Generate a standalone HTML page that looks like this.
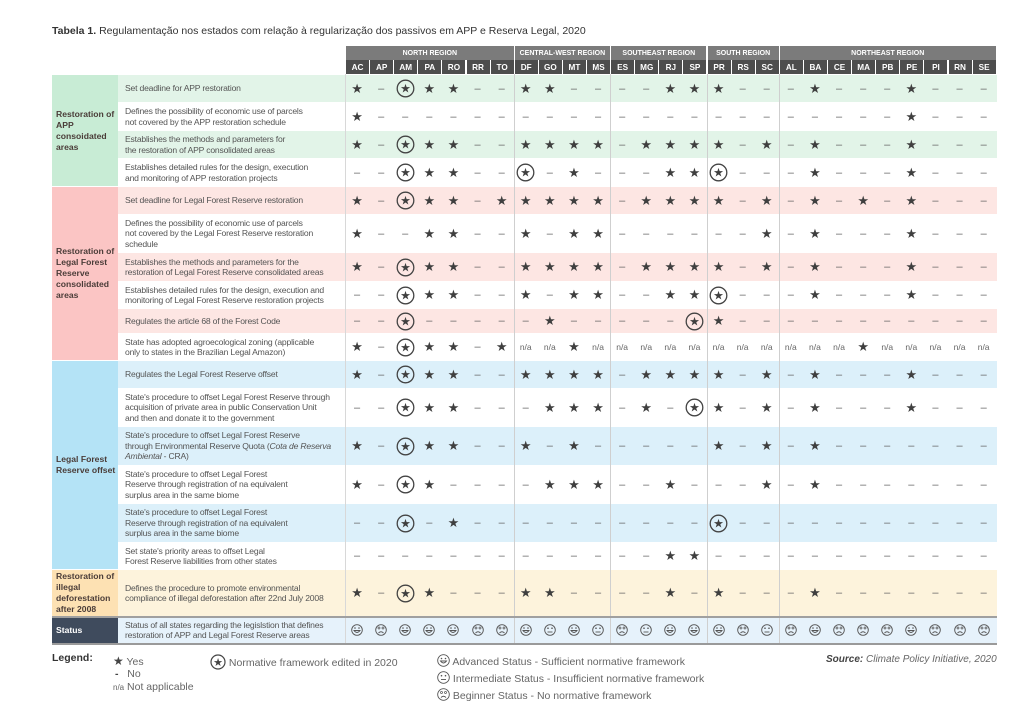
<!DOCTYPE html>
<html><head><meta charset="utf-8">
<style>
body{margin:0;width:1024px;height:724px;background:#fff;font-family:"Liberation Sans",sans-serif;position:relative;overflow:hidden}
.a{position:absolute;box-sizing:border-box}
.desc{font-size:8.6px;color:#555;line-height:10.5px;letter-spacing:-0.2px;display:flex;align-items:center;padding-left:7px}
.cat{font-size:8.6px;font-weight:bold;color:#4a3c38;line-height:11px;display:flex;align-items:center;padding-left:4px}
.cell{display:flex;align-items:center;justify-content:center;color:#454545}
.hd{color:#fff;font-weight:bold;font-size:7px;display:flex;align-items:center;justify-content:center;white-space:nowrap;overflow:hidden}
.leg{font-size:10.5px;color:#666}
</style></head><body>
<div class="a" style="left:52px;top:25px;font-size:10.5px;color:#333"><b>Tabela 1.</b> Regulamentação nos estados com relação à regularização dos passivos em APP e Reserva Legal, 2020</div>
<div id="t"></div>

<div class="a leg" style="left:52px;top:652px;color:#333;font-weight:bold;font-size:10.5px">Legend:</div>
<div class="a leg" style="left:113px;top:654px"><span style="color:#444;font-size:12px">★</span> Yes</div>
<div class="a leg" style="left:115px;top:668px"><span style="color:#444;font-weight:bold">-</span>&nbsp;&nbsp; No</div>
<div class="a leg" style="left:113px;top:681px"><span style="font-size:8px">n/a</span> Not applicable</div>
<div class="a leg" style="left:210px;top:654px"><svg width="16" height="16" style="vertical-align:-4px"><circle cx="8" cy="8" r="7" fill="none" stroke="#444" stroke-width="1.2"/><text x="8" y="12" text-anchor="middle" font-size="11" fill="#444">★</text></svg> Normative framework edited in 2020</div>
<div class="a leg" style="left:437px;top:654px"><span class="sm" data-k="A"></span> Advanced Status - Sufficient normative framework</div>
<div class="a leg" style="left:437px;top:671px"><span class="sm" data-k="I"></span> Intermediate Status - Insufficient normative framework</div>
<div class="a leg" style="left:437px;top:688px"><span class="sm" data-k="B"></span> Beginner Status - No normative framework</div>
<div class="a leg" style="left:826px;top:654px;font-style:italic;font-size:10px"><b style="color:#444">Source:</b> Climate Policy Initiative, 2020</div>

<script>
const states=["AC","AP","AM","PA","RO","RR","TO","DF","GO","MT","MS","ES","MG","RJ","SP","PR","RS","SC","AL","BA","CE","MA","PB","PE","PI","RN","SE"];
const regions=["NORTH REGION","CENTRAL-WEST REGION","SOUTHEAST REGION","SOUTH REGION","NORTHEAST REGION"];
const regionSizes=[7,4,4,3,9];
const categories=["Restoration of APP consoidated areas","Restoration of Legal Forest Reserve consolidated areas","Legal Forest Reserve offset","Restoration of illegal deforestation after 2008","Status"];
const descriptions=[
"Set deadline for APP restoration",
"Defines the possibility of economic use of parcels<br>not covered by the APP restoration schedule",
"Establishes the methods and parameters for<br>the restoration of APP consolidated areas",
"Establishes detailed rules for the design, execution<br>and monitoring of APP restoration projects",
"Set deadline for Legal Forest Reserve restoration",
"Defines the possibility of economic use of parcels<br>not covered by the Legal Forest Reserve restoration<br>schedule",
"Establishes the methods and parameters for the<br>restoration of Legal Forest Reserve consolidated areas",
"Establishes detailed rules for the design, execution and<br>monitoring of Legal Forest Reserve restoration projects",
"Regulates the article 68 of the Forest Code",
"State has adopted agroecological zoning (applicable<br>only to states in the Brazilian Legal Amazon)",
"Regulates the Legal Forest Reserve offset",
"State's procedure to offset Legal Forest Reserve through<br>acquisition of private area in public Conservation Unit<br>and then and donate it to the government",
"State's procedure to offset Legal Forest Reserve<br>through Environmental Reserve Quota (<i>Cota de Reserva<br>Ambiental</i> - CRA)",
"State's procedure to offset Legal Forest<br>Reserve through registration of na equivalent<br>surplus area in the same biome",
"State's procedure to offset Legal Forest<br>Reserve through registration of na equivalent<br>surplus area in the same biome",
"Set state's priority areas to offset Legal<br>Forest Reserve liabilities from other states",
"Defines the procedure to promote environmental<br>compliance of illegal deforestation after 22nd July 2008",
"Status of all states regarding the legislstion that defines<br>restoration of APP and Legal Forest Reserve areas"];
// * yes, - no, o edited 2020, n n/a  (groups: North | Central-West | Southeast | South | Northeast)
const values=[
"*-o**--"+"**--"+"--**"+"*--"+"-*---*---",
"*------"+"----"+"----"+"---"+"-----*---",
"*-o**--"+"****"+"-***"+"*-*"+"-*---*---",
"--o**--"+"o-*-"+"--**"+"o--"+"-*---*---",
"*-o**-*"+"****"+"-***"+"*-*"+"-*-*-*---",
"*--**--"+"*-**"+"----"+"--*"+"-*---*---",
"*-o**--"+"****"+"-***"+"*-*"+"-*---*---",
"--o**--"+"*-**"+"--**"+"o--"+"-*---*---",
"--o----"+"-*--"+"---o"+"*--"+"---------",
"*-o**-*"+"nn*n"+"nnnn"+"nnn"+"nnn*nnnnn",
"*-o**--"+"****"+"-***"+"*-*"+"-*---*---",
"--o**--"+"-***"+"-*-o"+"*-*"+"-*---*---",
"*-o**--"+"*-*-"+"----"+"*-*"+"-*-------",
"*-o*---"+"-***"+"--*-"+"--*"+"-*-------",
"--o-*--"+"----"+"----"+"o--"+"---------",
"-------"+"----"+"--**"+"---"+"---------",
"*-o*---"+"**--"+"--*-"+"*--"+"-*-------"];
const status="ABAAABBAIAIBIAAABIBABBBABBB";
</script>
<script>
const rowTops=[74,102,130,158,186,214,252,281,308,333,360,388,426,465,503,542,569,616];
const rowBottom=643;
const rowCat=[0,0,0,0,1,1,1,1,1,1,2,2,2,2,2,2,3,4];
const catBg=["#c8ecd5","#fbc5c4","#b4e3f6","#fde1b3","#3f4b5d"];
const shade=["#e2f4e8","#fde6e3","#dcf0fa","#fdf3dc","#e6f2fb"];
const X0=345,CW=24.1;
const t=document.getElementById('t');
function mk(cls,l,tp,w,h,bg,html){const d=document.createElement('div');d.className='a '+cls;d.style.left=l+'px';d.style.top=tp+'px';d.style.width=w+'px';d.style.height=h+'px';if(bg)d.style.background=bg;if(html!=null)d.innerHTML=html;t.appendChild(d);return d;}
function smiley(k,s){s=s||12;const c=s/2;let mouth;
 if(k==='A')mouth=`<path d="M${c-3} ${c+0.5} Q${c} ${c+4.5} ${c+3} ${c+0.5} Z" fill="none" stroke="#555" stroke-width="0.9"/><circle cx="${c-2}" cy="${c-2}" r="0.8" fill="#555"/><circle cx="${c+2}" cy="${c-2}" r="0.8" fill="#555"/>`;
 else if(k==='I')mouth=`<line x1="${c-2.5}" y1="${c+2}" x2="${c+2.5}" y2="${c+2}" stroke="#555" stroke-width="0.9"/><circle cx="${c-2}" cy="${c-1.8}" r="0.8" fill="#555"/><circle cx="${c+2}" cy="${c-1.8}" r="0.8" fill="#555"/>`;
 else mouth=`<path d="M${c-2.5} ${c+3} Q${c} ${c+0.5} ${c+2.5} ${c+3}" fill="none" stroke="#555" stroke-width="0.9"/><circle cx="${c-2}" cy="${c-2}" r="1" fill="none" stroke="#555" stroke-width="0.7"/><circle cx="${c+2}" cy="${c-2}" r="1" fill="none" stroke="#555" stroke-width="0.7"/>`;
 return `<svg width="${s}" height="${s}" style="vertical-align:-2px"><circle cx="${c}" cy="${c}" r="${c-0.7}" fill="none" stroke="#555" stroke-width="0.9"/>${mouth}</svg>`;}
document.querySelectorAll('.sm').forEach(e=>e.innerHTML=smiley(e.dataset.k,13));
let ci=0;
regions.forEach((r,i)=>{const d=mk('hd',X0+ci*CW+1,46,regionSizes[i]*CW-1,14,'#7b7b7b',r);


ci+=regionSizes[i];});
states.forEach((s,i)=>{const d=mk('hd',X0+i*CW+1,60,CW-1,14,'#4d4d4d',s);d.style.fontSize='8.2px';

});
const catRange=[[0,3],[4,9],[10,15],[16,16],[17,17]];
catRange.forEach((r,i)=>{const top=rowTops[r[0]],bot=(r[1]+1<rowTops.length?rowTops[r[1]+1]:rowBottom);
const d=mk('cat',52,top+1,66,bot-top-1,catBg[i],'<span>'+categories[i]+'</span>');if(i===4){d.style.color='#fff';}

});
rowTops.forEach((y,ri)=>{const bot=ri+1<rowTops.length?rowTops[ri+1]:rowBottom;const h=bot-y;
 const c=rowCat[ri];let local=ri-catRange[c][0];const bg=(c>=3||local%2===0)?shade[c]:'#ffffff';
 const bgd=mk('',118,y+1,997-118,h-1,bg,null);
 
 
 const d=mk('desc',118,y+1,227,h-1,null,'<span>'+descriptions[ri]+'</span>');
 
 
 for(let j=0;j<27;j++){const v=ri<17?values[ri][j]:status[j];let html;
  if(v==='*')html='<span style="font-size:13px;color:#3f3f3f">★</span>';
  else if(v==='-')html='<span style="font-size:11px;color:#666">–</span>';
  else if(v==='o')html='<svg width="19" height="19"><circle cx="9.5" cy="9.5" r="8.3" fill="none" stroke="#444" stroke-width="1.3"/><text x="9.5" y="13.5" text-anchor="middle" font-size="12" fill="#3f3f3f">★</text></svg>';
  else if(v==='n')html='<span style="font-size:8.5px;color:#666">n/a</span>';
  else html=smiley(v,12);
  const cell=mk('cell',X0+j*CW,y+1,CW,h-1,null,html);
  
  }
});
let acc=0;[7,4,4,3].forEach(n=>{acc+=n;const l=mk('',X0+acc*CW,74,1,rowBottom-74,'#cfcfcf',null);

});
const l1=mk('',345,74,1,rowBottom-74,'#d8d8d8',null);


const b=mk('',52,rowBottom,945,2,'#9a9a9a',null);


const b2=mk('',52,616,945,1.5,'#a0a0a0',null);


</script>
</body></html>
